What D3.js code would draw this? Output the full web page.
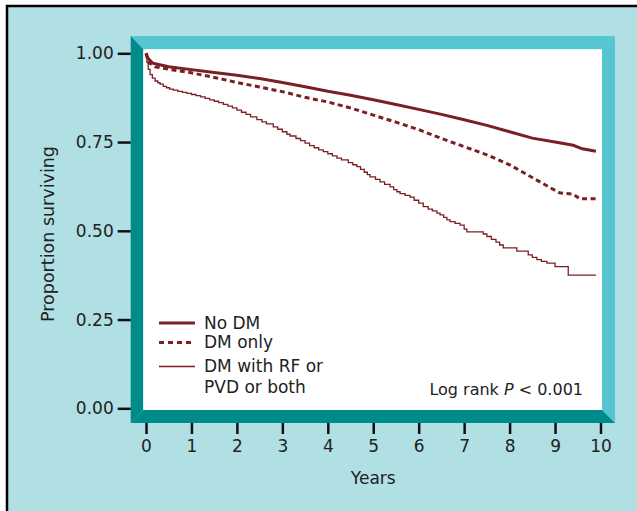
<!DOCTYPE html>
<html>
<head>
<meta charset="utf-8">
<script src="https://cdn.jsdelivr.net/npm/d3@7"></script>
<style>
  body { margin: 0; background: #fff; }
  svg { display: block; font-family: "DejaVu Sans", sans-serif; }
</style>
</head>
<body>
<div id="km-chart"></div>
<script>
// survival curves: [years, proportion surviving]
const noDM = [
  [0, 1.00], [0.05, 0.985], [0.15, 0.972], [0.5, 0.962], [1, 0.954], [1.5, 0.946],
  [2, 0.938], [2.5, 0.929], [3, 0.918], [3.5, 0.906], [4, 0.893], [4.5, 0.882],
  [5, 0.869], [5.5, 0.856], [6, 0.842], [6.5, 0.828], [7, 0.813], [7.5, 0.797],
  [8, 0.779], [8.5, 0.761], [9, 0.750], [9.4, 0.741], [9.6, 0.731], [9.9, 0.724]
]
const dmOnly = [
  [0, 1.00], [0.05, 0.975], [0.2, 0.962], [0.6, 0.953], [1, 0.945], [1.5, 0.932],
  [2, 0.918], [2.5, 0.905], [3, 0.892], [3.5, 0.876], [4, 0.863], [4.5, 0.846],
  [5, 0.826], [5.5, 0.806], [6, 0.785], [6.5, 0.760], [7, 0.737], [7.5, 0.714],
  [8, 0.686], [8.5, 0.650], [8.9, 0.621], [9.1, 0.607], [9.4, 0.603], [9.55, 0.590],
  [9.9, 0.590]
]
const dmRF = [
  [0, 1.00], [0.02, 0.975], [0.05, 0.955], [0.09, 0.94], [0.14, 0.93], [0.2, 0.922],
  [0.26, 0.917], [0.31, 0.913], [0.38, 0.907], [0.45, 0.903], [0.52, 0.899], [0.6, 0.896],
  [0.7, 0.893], [0.8, 0.890], [0.9, 0.887], [1.0, 0.884], [1.1, 0.881], [1.2, 0.877],
  [1.3, 0.873], [1.4, 0.869], [1.5, 0.865], [1.6, 0.861], [1.7, 0.856], [1.8, 0.851],
  [1.9, 0.846], [2.0, 0.840], [2.1, 0.834], [2.2, 0.828], [2.3, 0.821], [2.44, 0.813],
  [2.55, 0.807], [2.65, 0.801], [2.8, 0.793], [2.9, 0.786], [3.0, 0.779], [3.1, 0.772],
  [3.17, 0.767], [3.3, 0.760], [3.4, 0.754], [3.5, 0.747], [3.6, 0.740], [3.7, 0.734],
  [3.8, 0.728], [3.9, 0.723], [4.0, 0.717], [4.1, 0.711], [4.2, 0.705], [4.3, 0.700],
  [4.45, 0.692], [4.55, 0.686], [4.64, 0.681], [4.72, 0.673], [4.8, 0.665], [4.87, 0.658],
  [4.93, 0.652], [5.05, 0.645], [5.15, 0.638], [5.25, 0.631], [5.37, 0.624], [5.45, 0.616],
  [5.52, 0.610], [5.59, 0.605], [5.7, 0.600], [5.81, 0.595], [5.9, 0.586], [6.0, 0.578],
  [6.1, 0.568], [6.21, 0.561], [6.3, 0.556], [6.4, 0.550], [6.47, 0.545], [6.55, 0.538],
  [6.62, 0.531], [6.69, 0.526], [6.8, 0.521], [6.91, 0.516], [7.0, 0.505], [7.06, 0.497],
  [7.42, 0.491], [7.5, 0.484], [7.6, 0.476], [7.7, 0.468], [7.78, 0.460], [7.86, 0.452],
  [8.16, 0.443], [8.41, 0.432], [8.5, 0.425], [8.6, 0.419], [8.7, 0.414], [8.82, 0.409],
  [9.0, 0.399], [9.29, 0.375], [9.9, 0.375]
]

const xTicks = [0, 1, 2, 3, 4, 5, 6, 7, 8, 9, 10]
const yTicks = [0, 0.25, 0.5, 0.75, 1]
const legendLabels = [["No DM"], ["DM only"], ["DM with RF or", "PVD or both"]]

const width = 637
const height = 511
const red = "#7b1f24"

const svg = d3.select("#km-chart")
  .append("svg")
  .attr("width", width)
  .attr("height", height)

// panel background with black border
svg.append("rect")
  .attr("x", 7).attr("y", 6)
  .attr("width", 700).attr("height", 600)
  .attr("fill", "#b0dfe4")
  .attr("stroke", "#000")
  .attr("stroke-width", 2.5)

// scales
const x = d3.scaleLinear().domain([0, 10]).range([146, 600.5])
const y = d3.scaleLinear().domain([0, 1]).range([408.3, 53.3])

// bevelled frame around plot area
const outer = {l: 130.7, t: 36, r: 615, b: 423}
const inner = {l: 143.3, t: 49.3, r: 602, b: 410}
const light = "#57c5cf"
const dark = "#008b8b"
const frame = [
  {pts: [[outer.l, outer.t], [outer.r, outer.t], [inner.r, inner.t], [inner.l, inner.t]], fill: light},
  {pts: [[outer.r, outer.t], [outer.r, outer.b], [inner.r, inner.b], [inner.r, inner.t]], fill: light},
  {pts: [[outer.l, outer.t], [inner.l, inner.t], [inner.l, inner.b], [outer.l, outer.b]], fill: dark},
  {pts: [[outer.l, outer.b], [inner.l, inner.b], [inner.r, inner.b], [outer.r, outer.b]], fill: dark}
]
svg.selectAll("polygon")
  .data(frame)
  .join("polygon")
  .attr("points", d => d.pts.map(p => p.join(",")).join(" "))
  .attr("fill", d => d.fill)

svg.append("rect")
  .attr("x", inner.l).attr("y", inner.t)
  .attr("width", inner.r - inner.l).attr("height", inner.b - inner.t)
  .attr("fill", "#fff")

// Y axis
const yAxis = svg.append("g")
  .attr("transform", `translate(${outer.l},0)`)
  .call(d3.axisLeft(y).tickValues(yTicks).tickFormat(d3.format(".2f")).tickSize(13).tickPadding(4))
yAxis.select(".domain").remove()
yAxis.selectAll("line").attr("stroke", "#111").attr("stroke-width", 2.5)
yAxis.selectAll("text").attr("font-size", 17).attr("font-family", "DejaVu Sans").attr("fill", "#222")

// X axis
const xAxis = svg.append("g")
  .attr("transform", `translate(0,${outer.b})`)
  .call(d3.axisBottom(x).tickValues(xTicks).tickSize(11).tickPadding(6))
xAxis.select(".domain").remove()
xAxis.selectAll("line").attr("stroke", "#111").attr("stroke-width", 2.5)
xAxis.selectAll("text").attr("font-size", 17).attr("font-family", "DejaVu Sans").attr("fill", "#222")

// curves
const line = d3.line().x(d => x(d[0])).y(d => y(d[1]))
const stepLine = d3.line().x(d => x(d[0])).y(d => y(d[1])).curve(d3.curveStepAfter)

svg.append("path").datum(dmRF)
  .attr("d", stepLine).attr("fill", "none")
  .attr("stroke", red).attr("stroke-width", 1.3)

svg.append("path").datum(dmOnly)
  .attr("d", line).attr("fill", "none")
  .attr("stroke", red).attr("stroke-width", 3)
  .attr("stroke-dasharray", "5,3.5")

svg.append("path").datum(noDM)
  .attr("d", line).attr("fill", "none")
  .attr("stroke", red).attr("stroke-width", 3)

// legend
const legY = [323, 342.5, 366.5]
const legStyle = [
  {w: 3, dash: null},
  {w: 3, dash: "5,4"},
  {w: 1.3, dash: null}
]
legendLabels.forEach((lab, k) => {
  svg.append("line")
    .attr("x1", 159).attr("x2", 195)
    .attr("y1", legY[k]).attr("y2", legY[k])
    .attr("stroke", red)
    .attr("stroke-width", legStyle[k].w)
    .attr("stroke-dasharray", legStyle[k].dash)
  lab.forEach((t, j) => {
    svg.append("text")
      .attr("x", 204)
      .attr("y", legY[k] + 5.5 + j * 21)
      .style("font-size", "17px")
      .attr("fill", "#222")
      .text(t)
  })
})

// annotation
const note = svg.append("text")
  .attr("x", 583).attr("y", 395)
  .attr("text-anchor", "end")
  .style("font-size", "16px")
  .attr("fill", "#222")
note.append("tspan").text("Log rank ")
note.append("tspan").style("font-style", "italic").text("P")
note.append("tspan").text(" < 0.001")

// axis labels
svg.append("text")
  .attr("x", x(5))
  .attr("y", 484)
  .attr("text-anchor", "middle")
  .style("font-size", "17px")
  .attr("fill", "#222")
  .text("Years")

svg.append("text")
  .attr("transform", "rotate(-90)")
  .attr("x", -234)
  .attr("y", 54)
  .attr("text-anchor", "middle")
  .style("font-size", "17.5px")
  .attr("fill", "#222")
  .text("Proportion surviving")
</script>
</body>
</html>
